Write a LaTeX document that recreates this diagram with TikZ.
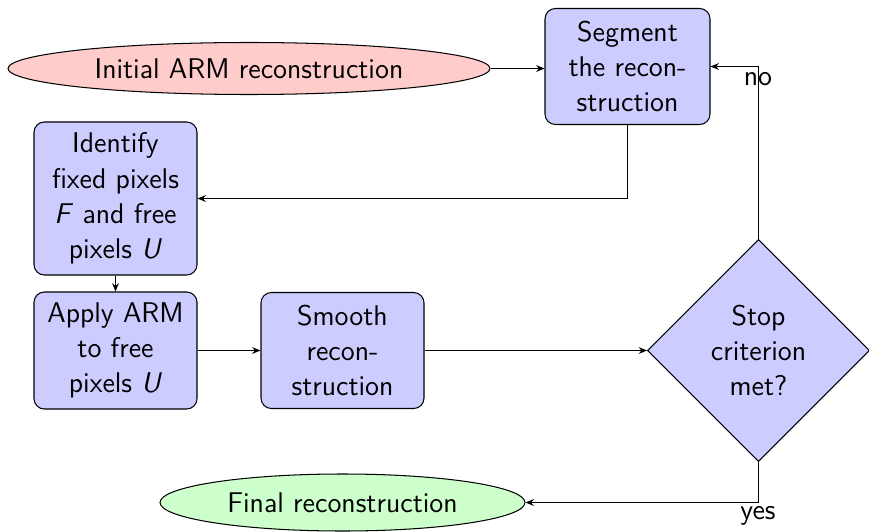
\documentclass[tikz,border=0pt]{standalone}
\usetikzlibrary{shapes.geometric,arrows.meta}
\def\pxunit{0.386pt}
\begin{document}
\begin{tikzpicture}[x=0.386pt,y=-0.386pt,
  every node/.style={font=\sffamily\fontsize{11}{13.6}\selectfont},
  blockbox/.style={rectangle, draw=black, fill=blue!20, rounded corners=4pt, align=center, inner sep=0pt, line width=0.4pt},
  decbox/.style={diamond, draw=black, fill=blue!20, align=center, inner sep=0pt, minimum width=222*\pxunit, minimum height=222*\pxunit, line width=0.4pt},
  startbox/.style={ellipse, draw=black, fill=red!20, inner sep=0pt, line width=0.4pt},
  endbox/.style={ellipse, draw=black, fill=green!20, inner sep=0pt, line width=0.4pt},
  arr/.style={-{Stealth[length=3.2pt,width=2.6pt]}, line width=0.38pt},
  lbl/.style={inner sep=0pt}
]
\useasboundingbox (0,0) rectangle (869,531);
\node[startbox, minimum width=482*\pxunit, minimum height=52*\pxunit] (init) at (249,68.5) {Initial ARM reconstruction};
\node[blockbox, minimum width=165*\pxunit, minimum height=116*\pxunit] (seg) at (627.5,66.5) {Segment\\the recon-\\struction};
\node[blockbox, minimum width=163*\pxunit, minimum height=153*\pxunit] (ident) at (115.5,198.5) {Identify\\fixed pixels\\\textit{F} and free\\pixels \textit{U}};
\node[blockbox, minimum width=163*\pxunit, minimum height=117*\pxunit] (apply) at (115.5,350.5) {Apply ARM\\to free\\pixels \textit{U}};
\node[blockbox, minimum width=163*\pxunit, minimum height=116*\pxunit] (smooth) at (342.5,350.5) {Smooth\\recon-\\struction};
\node[decbox] (dec) at (758.5,350.5) {Stop\\criterion\\met?};
\node[endbox, minimum width=365*\pxunit, minimum height=57*\pxunit] (final) at (342.5,502.5) {Final reconstruction};
\node[lbl] (no) at (758,79) {no};
\node[lbl] (yes) at (758,516) {yes};
\draw[arr] (init.east) -- (init.east -| seg.west);
\draw[arr] (seg.south) |- (ident.east);
\draw[arr] (ident.south) -- (apply.north);
\draw[arr] (apply.east) -- (smooth.west);
\draw[arr] (smooth.east) -- (dec.west);
\draw[arr] (dec.north) |- (seg.east);
\draw[arr] (dec.south) |- (final.east);
\end{tikzpicture}
\end{document}
